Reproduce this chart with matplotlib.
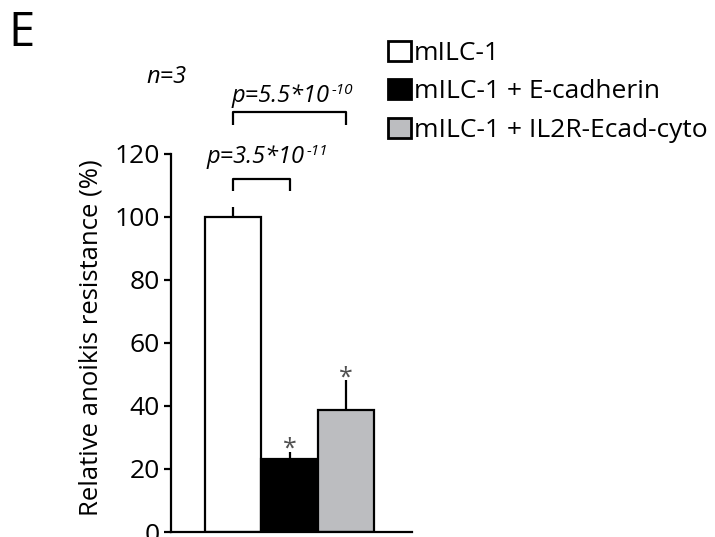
import matplotlib
matplotlib.use("Agg")
import matplotlib.pyplot as plt

# ---- data ----
categories = ["mILC-1", "mILC-1 + E-cadherin", "mILC-1 + IL2R-Ecad-cyto"]
values = [100.0, 23.3, 38.8]
errors = [3.0, 2.0, 9.3]
bar_colors = ["#ffffff", "#000000", "#bcbdc0"]
yticks = [0, 20, 40, 60, 80, 100, 120]
ylabel = "Relative anoikis resistance (%)"
comparisons = [(0, 1), (0, 2)]
p_mantissa = ["p=3.5*10", "p=5.5*10"]
p_exponent = ["-11", "-10"]
starred = [1, 2]
n_label = "n=3"
panel = "E"

plt.rcParams["font.family"] = ["Open Sans", "DejaVu Sans"]

W, H = 715, 537
fig = plt.figure(figsize=(W / 100, H / 100), dpi=100)
ax = fig.add_axes([171 / W, 1 - 532 / H, 241 / W, (532 - 153.6) / H])

x = list(range(len(values)))
ax.bar(x, values, width=1.0, color=bar_colors, edgecolor="black",
       linewidth=1.6, zorder=2)
ax.errorbar(x, values, yerr=[[0] * len(errors), errors], fmt="none",
            ecolor="black", elinewidth=1.6, capsize=0, zorder=3)

ax.set_xlim(-1.10, 3.17)
ax.set_ylim(0, 120)
ax.set_yticks(yticks)
ax.set_yticklabels([str(t) for t in yticks], fontsize=19)
ax.set_xticks([])
for s in ["top", "right"]:
    ax.spines[s].set_visible(False)
for s in ["left", "bottom"]:
    ax.spines[s].set_linewidth(1.6)
ax.tick_params(axis="y", direction="out", length=5, width=1.6, pad=3)
ax.set_ylabel(ylabel, fontsize=18.5, labelpad=8)
ax.yaxis.label.set_y(0.513)

# stars
for i in starred:
    ax.text(x[i], values[i] + errors[i] - 1.2, "*", ha="center", va="baseline",
            fontsize=18, color="#505050", clip_on=False)

# comparison brackets
bracket_levels = [(111.9, 108.0), (133.3, 129.1)]
for (i, j), (top, leg) in zip(comparisons, bracket_levels):
    ax.plot([x[i], x[i], x[j], x[j]], [leg, top, top, leg], color="black",
            linewidth=1.6, clip_on=False, solid_capstyle="butt")

# p-value labels (mantissa + superscript exponent)
p_pos = [(207, 163.3), (232, 102.0)]
for (px, py), mant, ex in zip(p_pos, p_mantissa, p_exponent):
    t = fig.text(px / W, 1 - py / H, mant, fontsize=17, style="italic",
                 ha="left", va="baseline")
    ax.annotate(ex, xy=(1.0, 0.6), xycoords=t, xytext=(0.8, 0),
                textcoords="offset points", fontsize=11, style="italic",
                ha="left", va="baseline", annotation_clip=False)

fig.text(146.7 / W, 1 - 83 / H, n_label, fontsize=17, style="italic",
         ha="left", va="baseline")

# panel letter
fig.text(8 / W, 1 - 46 / H, panel, fontsize=34, ha="left", va="baseline")

# legend
handles = [plt.Rectangle((0, 0), 1, 1, facecolor=c, edgecolor="black", linewidth=2.0)
           for c in bar_colors]
fig.legend(handles, categories, loc="upper left",
           bbox_to_anchor=(388 / W, 1 - 40.7 / H), frameon=False, fontsize=19,
           handlelength=0.87, handleheight=0.8, handletextpad=0.12,
           labelspacing=0.5, borderpad=0, borderaxespad=0)

fig.savefig("out.png", dpi=100)
